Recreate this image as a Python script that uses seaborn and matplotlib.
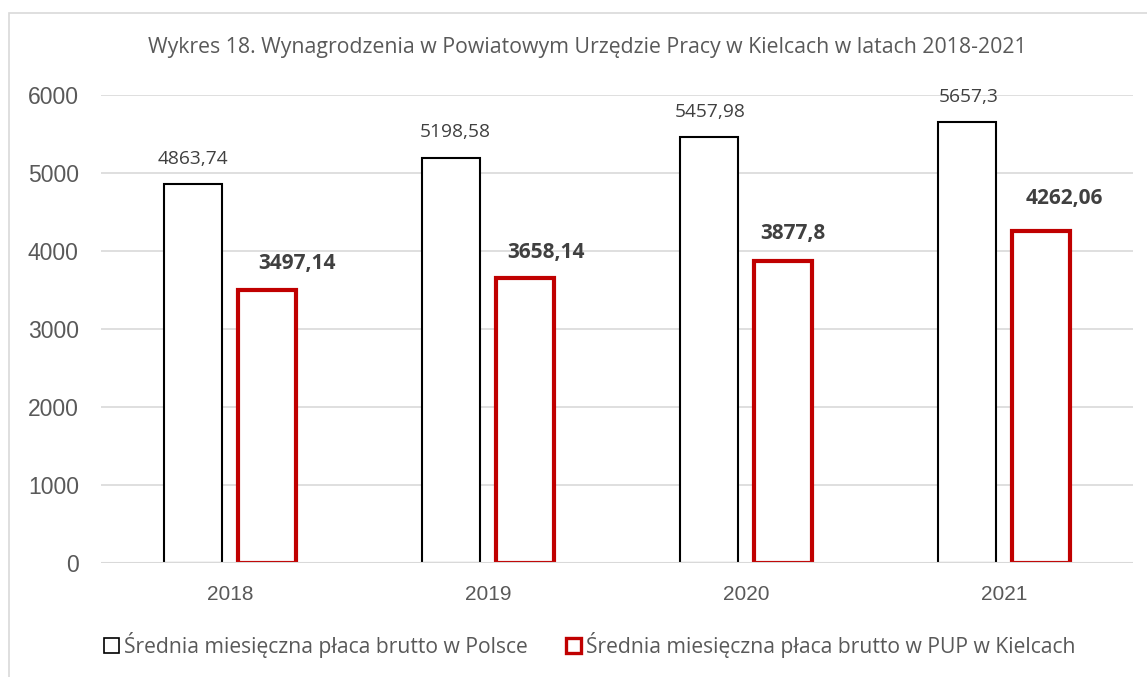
import numpy as np
import pandas as pd
import matplotlib
matplotlib.use('Agg')
import matplotlib.pyplot as plt
import seaborn as sns
from matplotlib.patches import Patch, Rectangle

# data
years = ['2018', '2019', '2020', '2021']
series_names = ['Średnia miesięczna płaca brutto w Polsce',
                'Średnia miesięczna płaca brutto w PUP w Kielcach']
poland = [4863.74, 5198.58, 5457.98, 5657.3]
pup_kielce = [3497.14, 3658.14, 3877.8, 4262.06]
yticks = [0, 1000, 2000, 3000, 4000, 5000, 6000]

# label offsets (points) from the bar top centre - the red ones were nudged by hand in the original
label_dx = [[0, 3, 1, 1], [21.6, 15.1, 7.2, 16.6]]
label_dy = [[18, 18.5, 18.5, 17.5], [19.4, 18, 19.4, 23]]

df = pd.DataFrame({
    'Rok': years * 2,
    'Seria': [series_names[0]] * len(years) + [series_names[1]] * len(years),
    'Wartosc': poland + pup_kielce,
})

sns.set_theme(style='white')
plt.rcParams['font.family'] = ['Open Sans', 'DejaVu Sans']

TEXT = '#595959'
RED = '#C00000'
edge_colors = ['black', RED]
edge_widths = [1.5, 3.0]

fig = plt.figure(figsize=(11.47, 6.77), dpi=100)
ax = fig.add_axes([101 / 1147, 1 - 563 / 677, 1032 / 1147, 468 / 677])

# light frame around the chart area, like the Excel export
fig.patches.append(Rectangle((9 / 1147, -0.01), 1.02, 1 - 13 / 677 + 0.01,
                             transform=fig.transFigure, fill=False,
                             edgecolor='#d9d9d9', lw=1.2, zorder=0))

sns.barplot(data=df, x='Rok', y='Wartosc', hue='Seria', order=years,
            hue_order=series_names, palette=['white', 'white'],
            width=0.572, gap=0.21, ax=ax, legend=False, zorder=3)

for i, cont in enumerate(ax.containers):
    for j, bar in enumerate(cont):
        bar.set_edgecolor(edge_colors[i])
        bar.set_linewidth(edge_widths[i])
        bar.set_facecolor('white')
        v = cont.datavalues[j]
        txt = f"{v:g}".replace('.', ',')
        ax.annotate(txt, xy=(bar.get_x() + bar.get_width() / 2, v),
                    xytext=(label_dx[i][j], label_dy[i][j]), textcoords='offset points',
                    ha='center', va='center', color='#404040',
                    fontsize=13.8 if i == 0 else 15,
                    fontweight='normal' if i == 0 else 'bold')

ax.set_ylim(0, 6000)
ax.set_yticks(yticks)
ax.yaxis.grid(True, color='#d9d9d9', lw=1.2, zorder=0)
ax.set_axisbelow(True)
for s in ['top', 'right', 'left', 'bottom']:
    ax.spines[s].set_visible(False)
ax.axhline(0, color='#d9d9d9', lw=1.5, zorder=4)
ax.set_xlabel('')
ax.set_ylabel('')
ax.tick_params(axis='both', length=0, labelcolor=TEXT)
ax.tick_params(axis='y', pad=16, labelsize=16.5)
ax.tick_params(axis='x', pad=16, labelsize=15)
for t in ax.get_yticklabels() + ax.get_xticklabels():
    t.set_fontfamily(['Liberation Sans', 'DejaVu Sans'])

fig.text(587 / 1147, 1 - 47 / 677,
         'Wykres 18. Wynagrodzenia w Powiatowym Urzędzie Pracy w Kielcach w latach 2018-2021',
         ha='center', va='center', fontsize=15.3, color=TEXT)

handles = [Patch(facecolor='white', edgecolor=edge_colors[i], linewidth=edge_widths[i] * 0.8)
           for i in range(2)]
fig.legend(handles, series_names, loc='center', bbox_to_anchor=(590 / 1147, 1 - 645 / 677),
           ncol=2, frameon=False, fontsize=15.2, labelcolor=TEXT,
           handlelength=0.7, handleheight=0.7, handletextpad=0.25, columnspacing=1.8)

fig.savefig('out.png', dpi=100)
